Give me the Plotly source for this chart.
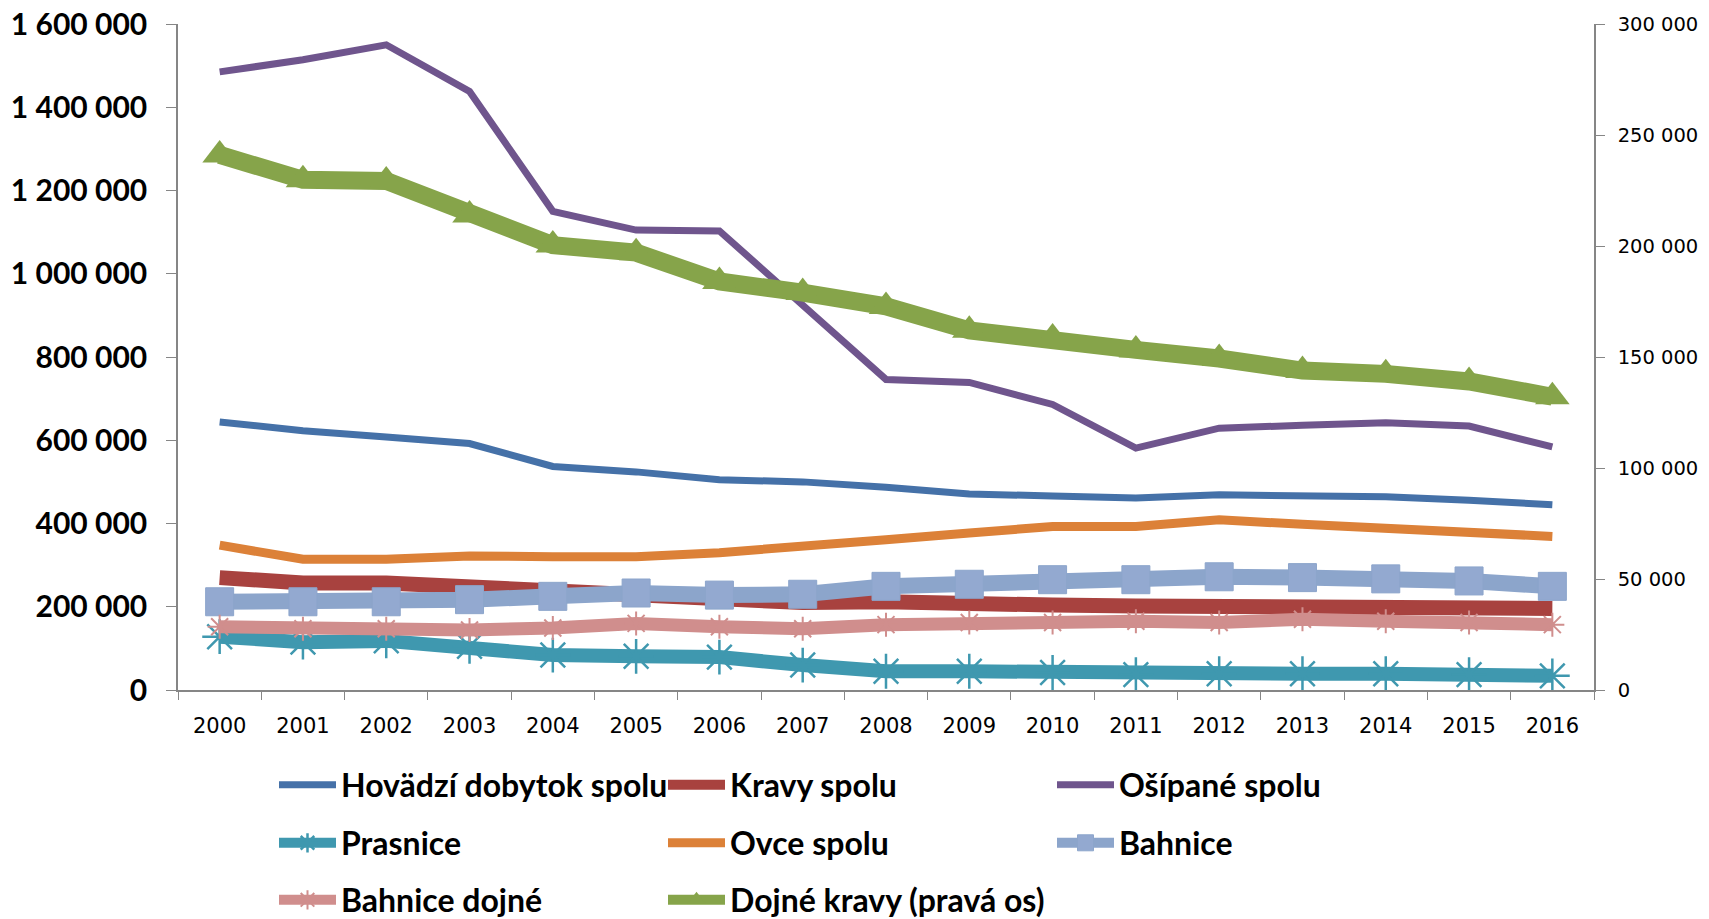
import plotly.graph_objects as go

years = [str(y) for y in range(2000, 2017)]

hovadzi = [644000, 623000, 608000, 592000, 537000, 524000, 505000, 500000, 487000,
           471000, 466000, 461000, 469000, 466000, 464000, 456000, 445000]
kravy = [270000, 257000, 257000, 246000, 238000, 230000, 212000, 210000, 212000,
         204000, 204000, 202000, 202000, 199000, 202000, 199000, 196000]
osipane = [1485000, 1514000, 1550000, 1438000, 1150000, 1105000, 1103000, 924000, 746000,
           739000, 686000, 581000, 629000, 636000, 642000, 634000, 584000]
prasnice = [128000, 115000, 118000, 105000, 84000, 81000, 79000, 60000, 45000,
            45000, 42000, 37000, 39000, 39000, 39000, 37000, 34000]
ovce = [348000, 314000, 314000, 322000, 320000, 320000, 330000, 348000, 361000,
        377000, 393000, 393000, 409000, 398000, 390000, 380000, 369000]
bahnice = [212000, 212000, 212000, 217000, 225000, 233000, 228000, 230000, 249000,
           254000, 265000, 265000, 272000, 270000, 267000, 262000, 249000]
bahnice_dojne = [152000, 147000, 147000, 144000, 149000, 160000, 152000, 147000, 157000,
                 162000, 162000, 165000, 162000, 170000, 165000, 162000, 157000]
dojne_kravy = [241000, 229800, 229300, 214000, 200400, 197000, 184000, 179000, 172800,
               162000, 158600, 153200, 149300, 143900, 142400, 139000, 132100]

fig = go.Figure()

def add(name, y, color, width, legend, marker=None, yaxis="y"):
    fig.add_trace(go.Scatter(
        x=years, y=y, name=name, yaxis=yaxis, legend=legend,
        mode="lines+markers" if marker else "lines",
        line=dict(color=color, width=width),
        marker=marker,
    ))

add("Hovädzí dobytok spolu", hovadzi, "#4571A8", 7, "legend")
add("Kravy spolu", kravy, "#A8423F", 15, "legend")
add("Ošípané spolu", osipane, "#6F558D", 7, "legend")
add("Prasnice", prasnice, "#3F98AF", 14, "legend2",
    marker=dict(symbol="asterisk-open", size=29, line=dict(color="#3F98AF", width=2.5)))
add("Ovce spolu", ovce, "#DC8138", 9, "legend2")
add("Bahnice", bahnice, "#8CA5CB", 16, "legend2",
    marker=dict(symbol="square", size=28, color="#93A9D0", line=dict(color="#8CA5CB", width=1)))
add("Bahnice dojné", bahnice_dojne, "#D08E8D", 13, "legend3",
    marker=dict(symbol="asterisk-open", size=20, line=dict(color="#D08E8D", width=2)))
add("Dojné kravy (pravá os)", dojne_kravy, "#86A44A", 18, "legend3",
    marker=dict(symbol="triangle-up", size=30, color="#86A44A"), yaxis="y2")

W, H = 1709, 919

leg = dict(orientation="h", xref="container", yref="container", x=266 / W,
           xanchor="left", yanchor="middle", itemwidth=57, entrywidth=317,
           font=dict(family="Lato", size=32, weight="bold", color="black"),
           bgcolor="rgba(0,0,0,0)", traceorder="normal")

axis_line = dict(showline=True, linecolor="#868686", linewidth=1.5, showgrid=False,
                 zeroline=False, ticks="outside", tickcolor="#868686", automargin=False,
                 ticklabeloverflow="allow")

fig.update_layout(
    width=W, height=H,
    margin=dict(l=170, r=123, t=16, b=237),
    plot_bgcolor="white", paper_bgcolor="white",
    separators=", ",
    showlegend=True,
    legend=dict(leg, y=1 - 777 / H),
    legend2=dict(leg, y=1 - 835 / H),
    legend3=dict(leg, y=1 - 892 / H),
    xaxis=dict(axis_line, type="category", tickson="boundaries", range=[-0.5, 16.5],
               ticklen=8, ticklabelstandoff=16,
               tickfont=dict(family="DejaVu Sans", size=21, color="black")),
    yaxis=dict(axis_line, range=[0, 1600000], dtick=200000, tickformat=",d",
               ticklen=10, ticklabelstandoff=13,
               tickfont=dict(family="Lato", size=30, weight="bold", color="black")),
    yaxis2=dict(axis_line, range=[0, 300000], dtick=50000, tickformat=",d",
                overlaying="y", side="right", ticklen=9, ticklabelstandoff=9,
                tickfont=dict(family="DejaVu Sans", size=19.5, color="black")),
)

fig.write_html("out.html")
